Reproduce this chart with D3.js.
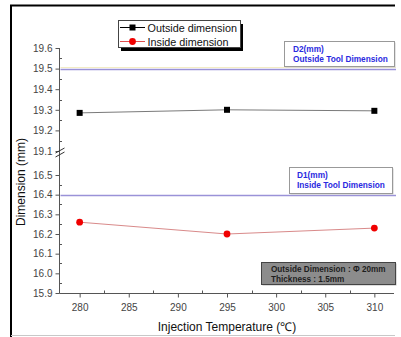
<!DOCTYPE html>
<html>
<head>
<meta charset="utf-8">
<script src="https://cdn.jsdelivr.net/npm/d3@7"></script>
<style>
  html, body { margin: 0; padding: 0; background: #fff; }
  svg { display: block; font-family: "Liberation Sans", Arial, sans-serif; }
</style>
</head>
<body>
<svg id="chart" width="401" height="337"></svg>
<script>
// Injection temperature (°C)
const temperatures = [280, 295, 310];
// Measured dimensions (mm)
const outsideDimension = [19.285, 19.30, 19.295];
const insideDimension = [16.26, 16.20, 16.23];
// Tool reference dimensions (mm)
const toolOutside = 19.5;
const toolInside = 16.4;

const xTicks = [280, 285, 290, 295, 300, 305, 310];
const xMinorTicks = [282.5, 287.5, 292.5, 297.5, 302.5, 307.5];
const yUpperTicks = [19.1, 19.2, 19.3, 19.4, 19.5, 19.6];
const yUpperMinor = [19.15, 19.25, 19.35, 19.45, 19.55];
const yLowerTicks = [15.9, 16.0, 16.1, 16.2, 16.3, 16.4, 16.5];
const yLowerMinor = [15.95, 16.05, 16.15, 16.25, 16.35, 16.45];

const legendLabels = ["Outside dimension", "Inside dimension"];
const d2Text = ["D2(mm)", "Outside Tool Dimension"];
const d1Text = ["D1(mm)", "Inside Tool Dimension"];
const noteText = ["Outside Dimension : \u03A6 20mm", "Thickness : 1.5mm"];
const xTitle = "Injection Temperature (\u2103)";
const yTitle = "Dimension (mm)";

const FONT = "Liberation Sans, Arial, sans-serif";
const svg = d3.select("#chart");

// Scales: one x scale and a broken y axis made of two segments
const x = d3.scaleLinear().domain([278, 312]).range([60, 394]);
const yTop = d3.scaleLinear().domain([19.1, 19.6]).range([151, 48]);
const yBot = d3.scaleLinear().domain([15.9, 16.5]).range([293, 175]);
const axisX = 59.5, axisY = 293.5;

const axisColor = "#555", labelColor = "#444";

// Outer frame
svg.append("line").attr("x1", 10).attr("x2", 395).attr("y1", 5.5).attr("y2", 5.5)
  .attr("stroke", "#000").attr("stroke-width", 2);
svg.append("line").attr("x1", 11).attr("x2", 11).attr("y1", 5).attr("y2", 337)
  .attr("stroke", "#000").attr("stroke-width", 2);
svg.append("line").attr("x1", 11).attr("x2", 395).attr("y1", 335.5).attr("y2", 335.5)
  .attr("stroke", "#c8c8c8").attr("stroke-width", 1);

// Tool dimension reference lines
svg.append("line").attr("x1", axisX + 1).attr("x2", 396)
  .attr("y1", Math.round(yTop(toolOutside)) - 1.5).attr("y2", Math.round(yTop(toolOutside)) - 1.5)
  .attr("stroke", "#f3ecc4").attr("stroke-width", 1);
[[yTop, toolOutside], [yBot, toolInside]].forEach(([s, v]) => {
  svg.append("line").attr("x1", axisX + 1).attr("x2", 396)
    .attr("y1", Math.round(s(v)) + 0.5).attr("y2", Math.round(s(v)) + 0.5)
    .attr("stroke", "#9a92d8").attr("stroke-width", 1.3);
});

// Y axis: upper and lower segments
function yAxisSegment(scale, ticks, minors) {
  const g = svg.append("g").attr("transform", `translate(${axisX},0)`);
  g.call(d3.axisLeft(scale).tickValues(ticks).tickSize(4).tickSizeOuter(0).tickPadding(3)
    .tickFormat(d3.format(".1f")));
  g.select(".domain").remove();
  g.selectAll(".tick line").attr("stroke", axisColor);
  g.selectAll(".tick text").attr("fill", labelColor).attr("font-size", 10).attr("font-family", FONT);
  g.selectAll(".minor").data(minors).enter().append("line")
    .attr("x1", 0).attr("x2", 2.5)
    .attr("y1", d => Math.round(scale(d)) + 0.5).attr("y2", d => Math.round(scale(d)) + 0.5)
    .attr("stroke", axisColor);
}
yAxisSegment(yTop, yUpperTicks, yUpperMinor);
yAxisSegment(yBot, yLowerTicks, yLowerMinor);
svg.append("line").attr("x1", axisX).attr("x2", axisX).attr("y1", 48).attr("y2", axisY)
  .attr("stroke", axisColor).attr("stroke-width", 1);

// Axis break marks
[150.5, 154.5].forEach(yy => {
  svg.append("line").attr("x1", axisX - 4).attr("x2", axisX + 5)
    .attr("y1", yy + 2.5).attr("y2", yy - 2.5)
    .attr("stroke", "#333").attr("stroke-width", 1);
});

// X axis
const gx = svg.append("g").attr("transform", `translate(0,${axisY})`);
gx.call(d3.axisBottom(x).tickValues(xTicks).tickSize(4).tickSizeOuter(0).tickPadding(6));
gx.select(".domain").remove();
gx.selectAll(".tick line").attr("stroke", axisColor);
gx.selectAll(".tick text").attr("fill", labelColor).attr("font-size", 10).attr("font-family", FONT);
gx.selectAll(".minor").data(xMinorTicks).enter().append("line")
  .attr("x1", d => Math.round(x(d)) + 0.5).attr("x2", d => Math.round(x(d)) + 0.5)
  .attr("y1", 0).attr("y2", -3).attr("stroke", axisColor);
svg.append("line").attr("x1", axisX).attr("x2", 394).attr("y1", axisY).attr("y2", axisY)
  .attr("stroke", axisColor).attr("stroke-width", 1);

// Axis titles
svg.append("text").attr("x", 227).attr("y", 331).attr("text-anchor", "middle")
  .attr("font-size", 12).attr("fill", "#111").text(xTitle);
svg.append("text").attr("transform", "translate(25,182) rotate(-90)").attr("text-anchor", "middle")
  .attr("font-size", 12).attr("fill", "#111").text(yTitle);

// Data series
const outsidePts = temperatures.map((t, i) => [x(t), yTop(outsideDimension[i])]);
const insidePts = temperatures.map((t, i) => [x(t), yBot(insideDimension[i])]);
const line = d3.line();
svg.append("path").attr("d", line(outsidePts)).attr("fill", "none")
  .attr("stroke", "#7a7a7a").attr("stroke-width", 1);
svg.append("path").attr("d", line(insidePts)).attr("fill", "none")
  .attr("stroke", "#d98a8a").attr("stroke-width", 1);
svg.selectAll(".sq").data(outsidePts).enter().append("rect")
  .attr("x", d => d[0] - 3).attr("y", d => d[1] - 3).attr("width", 6).attr("height", 6)
  .attr("fill", "#000");
svg.selectAll(".dot").data(insidePts).enter().append("circle")
  .attr("cx", d => d[0]).attr("cy", d => d[1]).attr("r", 3.4).attr("fill", "#f00000");

// Legend with drop shadow
const lg = svg.append("g");
lg.append("rect").attr("x", 121).attr("y", 24).attr("width", 122).attr("height", 27).attr("fill", "#000");
lg.append("rect").attr("x", 118.5).attr("y", 20.5).attr("width", 122).attr("height", 27)
  .attr("fill", "#fff").attr("stroke", "#444").attr("stroke-width", 1);
[[legendLabels[0], "#000", 27.5, "sq"], [legendLabels[1], "#e05050", 41.5, "dot"]].forEach(([label, col, yy, kind]) => {
  lg.append("line").attr("x1", 120).attr("x2", 145).attr("y1", yy).attr("y2", yy)
    .attr("stroke", col).attr("stroke-width", 1);
  if (kind === "sq") lg.append("rect").attr("x", 129.5).attr("y", yy - 3).attr("width", 6).attr("height", 6).attr("fill", "#000");
  else lg.append("circle").attr("cx", 132.5).attr("cy", yy).attr("r", 3.4).attr("fill", "#f00000");
  lg.append("text").attr("x", 147.5).attr("y", yy + 4).attr("font-size", 10.8).attr("fill", "#111").text(label);
});

// Annotation boxes
function noteBox(bx, by, bw, bh, lines, opts) {
  const g = svg.append("g");
  g.append("rect").attr("x", bx + 1.5).attr("y", by + 1.5).attr("width", bw).attr("height", bh)
    .attr("fill", opts.shadow);
  g.append("rect").attr("x", bx + 0.5).attr("y", by + 0.5).attr("width", bw).attr("height", bh)
    .attr("fill", opts.fill).attr("stroke", opts.stroke).attr("stroke-width", 1);
  lines.forEach((t, i) => {
    g.append("text").attr("x", bx + opts.dx).attr("y", by + opts.dy + i * opts.lh)
      .attr("font-size", opts.fs).attr("font-weight", "bold").attr("fill", opts.color).text(t);
  });
}
noteBox(284, 41, 110, 25, d2Text, { fill: "#fff", stroke: "#999", shadow: "#ccc", color: "#2a2ae0", dx: 9, dy: 10.5, lh: 10.5, fs: 8.3 });
noteBox(289, 167, 103, 26, d1Text, { fill: "#fff", stroke: "#999", shadow: "#ccc", color: "#2a2ae0", dx: 8, dy: 10.5, lh: 10, fs: 8.3 });
noteBox(261, 262, 134, 22, noteText, { fill: "#8c8c8c", stroke: "#444", shadow: "#bbb", color: "#1e1e1e", dx: 10, dy: 9.5, lh: 10, fs: 8.2 });
</script>
</body>
</html>
